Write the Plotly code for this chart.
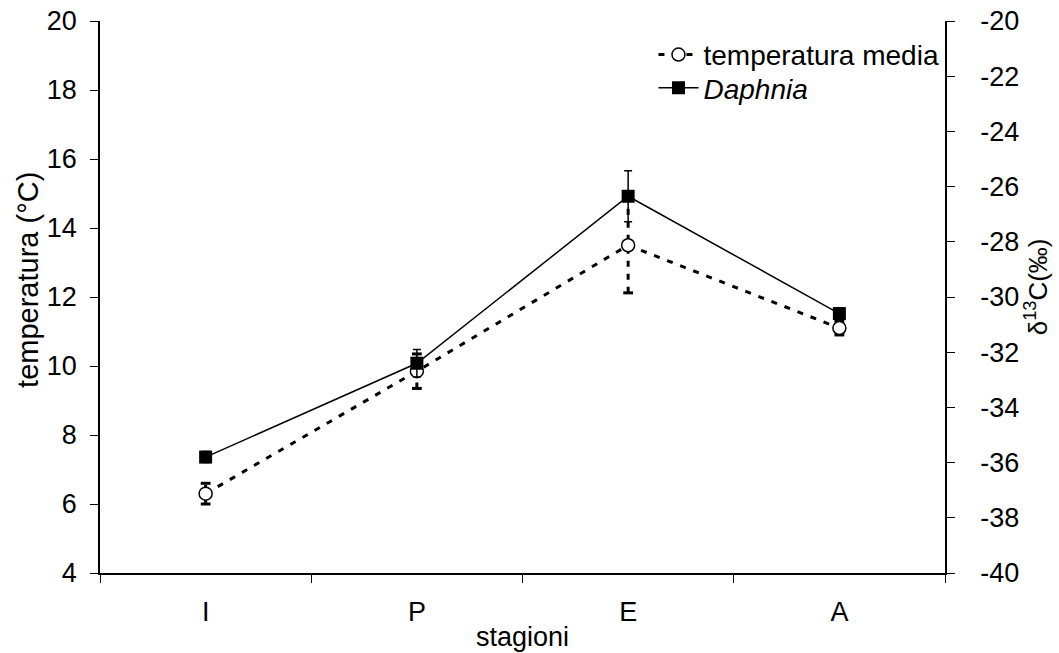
import plotly.graph_objects as go

seasons = ["I", "P", "E", "A"]
temp_mean = [6.3, 9.85, 13.5, 11.1]
temp_err = [0.3, 0.5, 1.38, 0.2]
daphnia_d13c = [-35.8, -32.4, -26.35, -30.6]
daphnia_err = [0.2, 0.5, 0.92, 0.2]

left_ticks = list(range(4, 21, 2))
right_ticks = list(range(-40, -19, 2))
right_labels = [str(v) for v in right_ticks]

FONT = "Liberation Sans, Arial, sans-serif"

fig = go.Figure()

# temperature error bars (dashed), built from the data
ex, ey = [], []
for s, m, e in zip(seasons, temp_mean, temp_err):
    ex += [s, s, None]
    ey += [m - e, m + e, None]
fig.add_trace(go.Scatter(
    x=ex, y=ey, mode="lines+markers", showlegend=False, hoverinfo="skip",
    line=dict(color="black", width=3, dash="6px,7px"),
    marker=dict(symbol="line-ew-open", size=7, line=dict(color="black", width=3)),
))

fig.add_trace(go.Scatter(
    x=seasons, y=temp_mean, mode="lines+markers", name="temperatura media",
    legend="legend",
    line=dict(color="black", width=3, dash="6px,8px"),
    marker=dict(symbol="circle", size=13, color="white",
                line=dict(color="black", width=1.5)),
))

fig.add_trace(go.Scatter(
    x=seasons, y=daphnia_d13c, mode="lines+markers", name="<i>Daphnia</i>",
    yaxis="y2", legend="legend2",
    line=dict(color="black", width=1.5),
    marker=dict(symbol="square", size=13, color="black"),
    error_y=dict(type="data", array=daphnia_err, visible=True,
                 color="black", thickness=1.5, width=4),
))

leg_common = dict(xanchor="left", yanchor="top", bgcolor="rgba(0,0,0,0)",
                  font=dict(size=28), itemwidth=40)

fig.update_layout(
    width=1059, height=653,
    margin=dict(l=100, r=114, t=21, b=80, autoexpand=False),
    paper_bgcolor="white", plot_bgcolor="white",
    font=dict(family=FONT, size=27, color="black"),
    showlegend=True,
    legend=dict(x=0.655, y=0.984, **leg_common),
    legend2=dict(x=0.655, y=0.924, **leg_common),
    xaxis=dict(
        type="category", categoryorder="array", categoryarray=seasons,
        range=[-0.5, 3.5], showgrid=False, zeroline=False, automargin=False,
        showline=True, linecolor="black", linewidth=1.5,
        ticks="outside", tickson="boundaries", ticklen=8, tickwidth=1,
        tickcolor="black", ticklabelstandoff=14,
        tickfont=dict(size=27),
    ),
    yaxis=dict(
        range=[4, 20], tickvals=left_ticks, showgrid=False, zeroline=False,
        automargin=False, ticklabeloverflow="allow",
        showline=True, linecolor="black", linewidth=1.5,
        ticks="outside", ticklen=8, tickwidth=1, tickcolor="black",
        ticklabelstandoff=8, tickfont=dict(size=27),
    ),
    yaxis2=dict(
        range=[-40, -20], tickvals=right_ticks, ticktext=right_labels,
        overlaying="y", side="right", automargin=False,
        ticklabeloverflow="allow",
        showgrid=False, zeroline=False,
        showline=True, linecolor="black", linewidth=1.5,
        ticks="outside", ticklen=8, tickwidth=1, tickcolor="black",
        ticklabelstandoff=20, tickfont=dict(size=27),
    ),
    annotations=[
        dict(text="stagioni", xref="paper", yref="paper",
             x=0.5, y=-0.116, showarrow=False,
             xanchor="center", yanchor="middle", font=dict(size=27)),
        dict(text="temperatura (°C)", xref="paper", yref="paper",
             x=-0.0852, y=0.531, textangle=-90, showarrow=False,
             xanchor="center", yanchor="middle", font=dict(size=29)),
        dict(text="δ<sup>13</sup>C(‰)", xref="paper", yref="paper",
             x=1.108, y=0.518, textangle=-90, showarrow=False,
             xanchor="center", yanchor="middle", font=dict(size=26)),
    ],
)

fig.write_html("out.html",
               config={"displayModeBar": False},
               post_script="document.body.style.margin='0';"
                           "document.body.style.overflow='hidden';")
